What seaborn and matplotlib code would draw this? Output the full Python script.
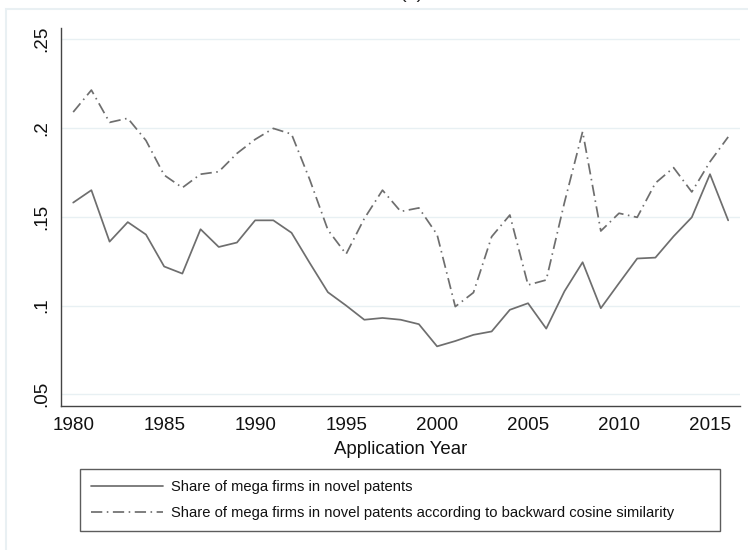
import numpy as np
import pandas as pd
import matplotlib
matplotlib.use("Agg")
import matplotlib.pyplot as plt
from matplotlib.patches import Rectangle
import seaborn as sns

# Application years and the two shares
years = list(range(1980, 2017))
share_novel = [
    0.158, 0.165, 0.136, 0.147, 0.140, 0.122, 0.118, 0.143, 0.133, 0.1355,
    0.148, 0.148, 0.141, 0.124, 0.1075, 0.100, 0.092, 0.093, 0.092, 0.0895,
    0.077, 0.080, 0.0835, 0.0854, 0.0976, 0.1013, 0.087, 0.108, 0.1244, 0.0985,
    0.1126, 0.1265, 0.127, 0.139, 0.1497, 0.174, 0.148,
]
share_cosine = [
    0.2090, 0.2214, 0.2032, 0.2055, 0.193, 0.1735, 0.1664, 0.174, 0.1754, 0.1857,
    0.1936, 0.1998, 0.1966, 0.171, 0.1426, 0.129, 0.149, 0.165, 0.153, 0.155,
    0.140, 0.0994, 0.1073, 0.1388, 0.151, 0.1116, 0.1144, 0.158, 0.198, 0.142,
    0.152, 0.1497, 0.169, 0.1777, 0.164, 0.181, 0.195,
]
label_novel = "Share of mega firms in novel patents"
label_cosine = "Share of mega firms in novel patents according to backward cosine similarity"
x_ticks = [1980, 1985, 1990, 1995, 2000, 2005, 2010, 2015]
y_ticks = [0.05, 0.10, 0.15, 0.20, 0.25]
y_tick_labels = [".05", ".1", ".15", ".2", ".25"]

sns.set_theme(style="white")
plt.rcParams["font.family"] = ["Liberation Sans", "DejaVu Sans"]

W, H = 748, 550
fig = plt.figure(figsize=(W / 100, H / 100), dpi=100)
fig.patch.set_facecolor("white")

# faint outer frame of the graph region
fig.patches.append(Rectangle((5.5 / W, -0.05), 1.2, 1 - 9 / H + 0.05,
                             transform=fig.transFigure, fill=False,
                             edgecolor="#E9F0F3", linewidth=1.5, zorder=0))

# panel title sits at the very top edge
fig.text(412 / W, 1 + 1.5 / H, "(a)", ha="center", va="baseline", fontsize=14, color="#222222")

ax = fig.add_axes([61 / W, 1 - 406 / H, (740 - 61) / W, (406 - 28.3) / H])
ax.set_facecolor("white")

df = pd.DataFrame({"year": years, "novel": share_novel, "cosine": share_cosine})
line_color = "#6E6E6E"
sns.lineplot(data=df, x="year", y="novel", ax=ax, color=line_color, linewidth=1.25,
             label=label_novel, legend=False)
sns.lineplot(data=df, x="year", y="cosine", ax=ax, color=line_color, linewidth=1.25,
             label=label_cosine, legend=False)
ax.lines[1].set_dashes((6.5, 2.6, 0.9, 2.6))

ax.set_xlim(1979.33, 2016.65)
ax.set_ylim(0.0434, 0.2562)
ax.set_xticks(x_ticks)
ax.set_yticks(y_ticks)
ax.set_yticklabels(y_tick_labels, rotation=90, va="center")
ax.tick_params(axis="both", direction="out", length=5, width=0.9, color="#444444",
               labelsize=13.6, labelcolor="#111111", pad=3)
ax.tick_params(axis="x", pad=3)
ax.grid(axis="y", color="#E8F0F3", linewidth=1.0)
ax.grid(axis="x", visible=False)
for side in ("top", "right"):
    ax.spines[side].set_visible(False)
for side in ("left", "bottom"):
    ax.spines[side].set_color("#444444")
    ax.spines[side].set_linewidth(1.0)
ax.set_xlabel("Application Year", fontsize=13.4, color="#111111", labelpad=5)
ax.set_ylabel("")

handles, labels = ax.get_legend_handles_labels()
leg = fig.legend(handles, labels, loc="upper left",
                 bbox_to_anchor=(80 / W, 1 - 469 / H, (720 - 80) / W, 0.0),
                 mode="expand", ncol=1, fontsize=10.6, frameon=True, fancybox=False,
                 edgecolor="#333333", handlelength=4.9, handletextpad=0.55,
                 borderpad=0.74, labelspacing=0.84, borderaxespad=0.0)
leg.get_frame().set_linewidth(1.0)
for t in leg.get_texts():
    t.set_color("#111111")

fig.savefig("out.png", dpi=100, facecolor="white")
